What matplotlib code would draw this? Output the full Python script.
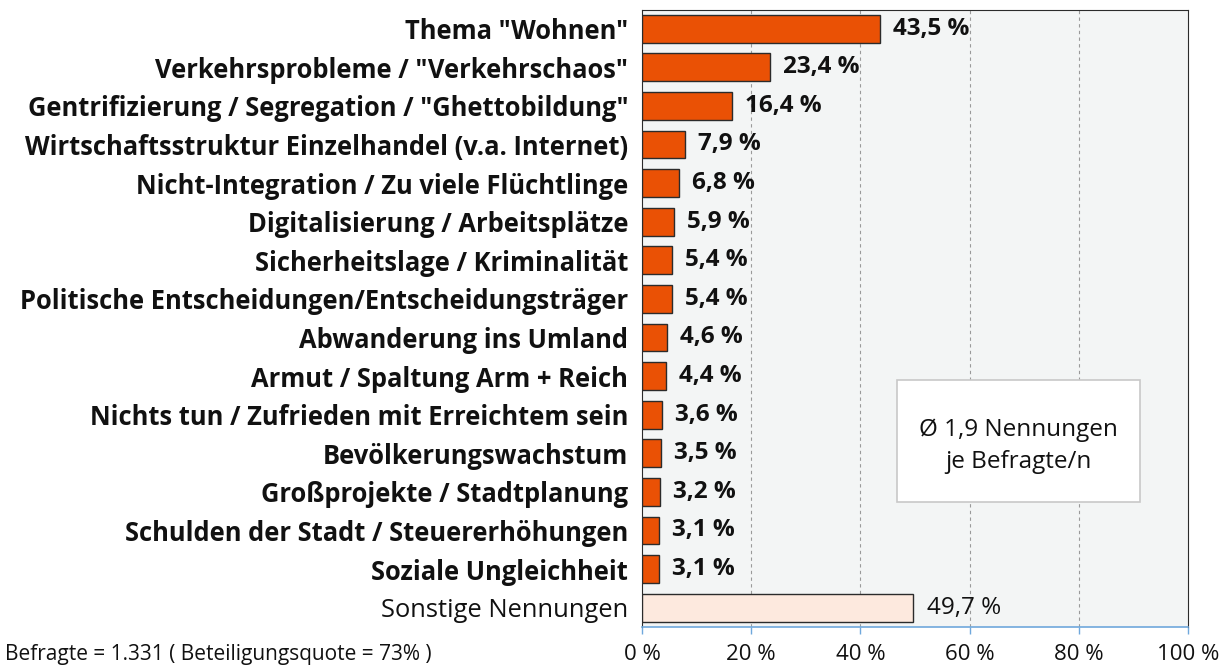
import matplotlib
matplotlib.use("Agg")
import matplotlib.pyplot as plt
from matplotlib.patches import Rectangle

categories = [
    'Thema "Wohnen"',
    'Verkehrsprobleme / "Verkehrschaos"',
    'Gentrifizierung / Segregation / "Ghettobildung"',
    'Wirtschaftsstruktur Einzelhandel (v.a. Internet)',
    'Nicht-Integration / Zu viele Flüchtlinge',
    'Digitalisierung / Arbeitsplätze',
    'Sicherheitslage / Kriminalität',
    'Politische Entscheidungen/Entscheidungsträger',
    'Abwanderung ins Umland',
    'Armut / Spaltung Arm + Reich',
    'Nichts tun / Zufrieden mit Erreichtem sein',
    'Bevölkerungswachstum',
    'Großprojekte / Stadtplanung',
    'Schulden der Stadt / Steuererhöhungen',
    'Soziale Ungleichheit',
    'Sonstige Nennungen',
]
values = [43.5, 23.4, 16.4, 7.9, 6.8, 5.9, 5.4, 5.4, 4.6, 4.4, 3.6, 3.5, 3.2, 3.1, 3.1, 49.7]
xticks = [0, 20, 40, 60, 80, 100]
xticklabels = ["0 %", "20 %", "40 %", "60 %", "80 %", "100 %"]
footnote = "Befragte = 1.331 ( Beteiligungsquote = 73% )"
boxtext = "Ø 1,9 Nennungen\nje Befragte/n"

plt.rcParams['font.family'] = ['Open Sans', 'DejaVu Sans']

fig = plt.figure(figsize=(12.26, 6.69), dpi=100)
ax = fig.add_axes([0.5237, 0.0628, 0.4454, 0.922])
ax.set_facecolor("#f3f5f5")

ypos = list(range(len(categories)))
colors = ["#ea5105"] * (len(categories) - 1) + ["#fde9de"]
ax.barh(ypos, values, height=0.72, color=colors, edgecolor="#2b2b2b", linewidth=1.0, zorder=3)

for i, v in enumerate(values):
    last = i == len(values) - 1
    ax.text(v + 2.4, i, f"{v:.1f} %".replace(".", ","), va="center", ha="left",
            fontsize=17.5, fontweight="normal" if last else "bold", color="#111111", zorder=4)

ax.set_ylim(15.5, -0.48)
ax.set_xlim(0, 100)
ax.set_yticks(ypos)
ax.set_yticklabels(categories)
for i, lab in enumerate(ax.get_yticklabels()):
    if i < len(categories) - 1:
        lab.set_fontweight("bold")
    else:
        lab.set_fontweight("normal")
    lab.set_fontsize(18.4)
    lab.set_color("#111111")
ax.tick_params(axis="y", length=0, pad=10)

ax.set_xticks(xticks)
ax.set_xticklabels(xticklabels, fontsize=16, color="#111111")
ax.tick_params(axis="x", direction="out", length=5, color="#6fa8dc", width=1, pad=7)

for x in xticks[1:-1]:
    ax.axvline(x, color="#9a9a9a", linestyle=(0, (3, 3)), linewidth=0.8, zorder=1)

ax.spines["left"].set_color("#2b2b2b")
ax.spines["top"].set_color("#2b2b2b")
ax.spines["right"].set_color("#2b2b2b")
ax.spines["bottom"].set_color("#6fa8dc")
ax.spines["bottom"].set_linewidth(1.2)

# annotation box
ax.add_patch(Rectangle((0.467, 0.2026), 0.445, 0.1977, transform=ax.transAxes,
                       facecolor="white", edgecolor="#c8c8c8", linewidth=1.2, zorder=5))
ax.text(0.6896, 0.293, boxtext, transform=ax.transAxes, ha="center", va="center",
        fontsize=17.5, color="#111111", linespacing=1.45, zorder=6)

fig.text(0.004, 0.021, footnote, fontsize=15, color="#111111", ha="left", va="center")

fig.savefig("out.png", dpi=100)
